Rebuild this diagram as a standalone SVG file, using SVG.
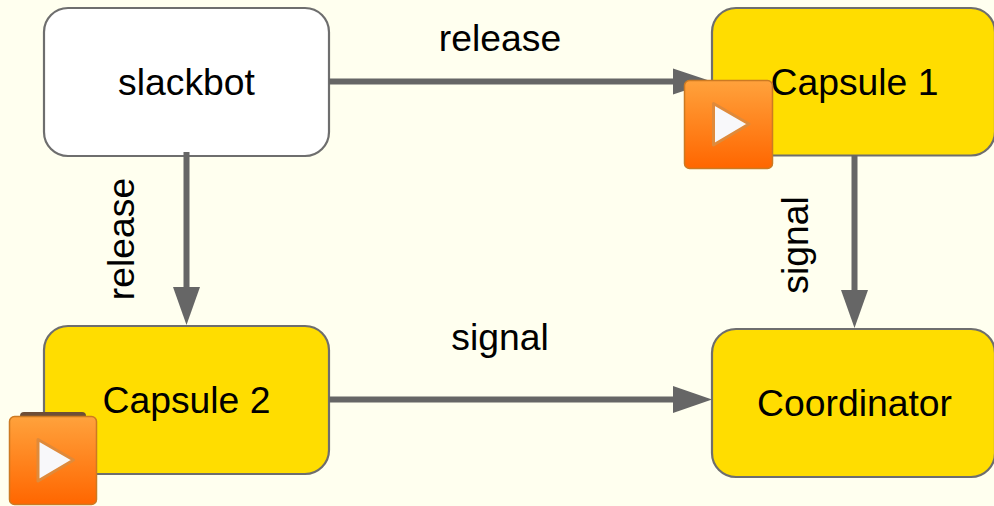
<svg xmlns="http://www.w3.org/2000/svg" width="994" height="506" viewBox="0 0 994 506">
<style>
text{font-family:"Liberation Sans",Arial,sans-serif;font-size:37.3px;fill:#000;text-anchor:middle}
.box{stroke:#6e6e6e;stroke-width:2.2}
.y{fill:#ffdd00}
.w{fill:#fff}
.conn{stroke:#666;stroke-width:6;fill:none}
.head{fill:#666}
.pb{fill:url(#og);stroke:#cc7a22;stroke-width:1.5}
.pt{fill:#f8f8fa;stroke:#e08a3a;stroke-width:3;stroke-linejoin:round}
</style>
<defs>
<linearGradient id="og" x1="0" y1="0" x2="0" y2="1">
<stop offset="0" stop-color="#ffa23c"/>
<stop offset="1" stop-color="#ff6600"/>
</linearGradient>
</defs>
<rect width="994" height="506" fill="#ffffef"/>
<g id="slackbot"><rect class="box w" x="44" y="8" width="285" height="148" rx="24"/><text x="186.500" y="95">slackbot</text></g>
<g id="capsule1"><rect class="box y" x="712" y="8" width="283" height="147.500" rx="24"/><text x="854.500" y="95">Capsule 1</text></g>
<g id="capsule2"><rect class="box y" x="44" y="326" width="285" height="148" rx="24"/><text x="186.500" y="413">Capsule 2</text></g>
<g id="coordinator"><rect class="box y" x="712" y="329" width="283" height="148" rx="24"/><text x="854.500" y="416">Coordinator</text></g>
<g id="connectors">
<path class="conn" d="M329 81.500H675"/><path class="head" d="M712 81.500L673 68.500V94.500Z"/>
<path class="conn" d="M186.500 152V289"/><path class="head" d="M186.500 325L173 287H200Z"/>
<path class="conn" d="M854.500 155V292"/><path class="head" d="M854.500 328L841 290H868Z"/>
<path class="conn" d="M329 399.500H675"/><path class="head" d="M712 399.500L673 386V413Z"/>
</g>
<g id="labels">
<text x="500" y="51">release</text>
<text x="500" y="350">signal</text>
<text transform="translate(134 239) rotate(-90)">release</text>
<text transform="translate(808 245) rotate(-90)">signal</text>
</g>
<g id="play1"><rect class="pb" x="684.500" y="80.500" width="88" height="88" rx="5"/><path class="pt" d="M713.500 103.500L749 124L713.500 145Z"/></g>
<g id="play2"><rect x="20" y="412" width="66" height="12" rx="4" fill="#6e4e36"/><rect class="pb" x="9.500" y="416.500" width="87" height="88" rx="5"/><path class="pt" d="M38 439.500L73.500 460L38 481Z"/></g>
</svg>
